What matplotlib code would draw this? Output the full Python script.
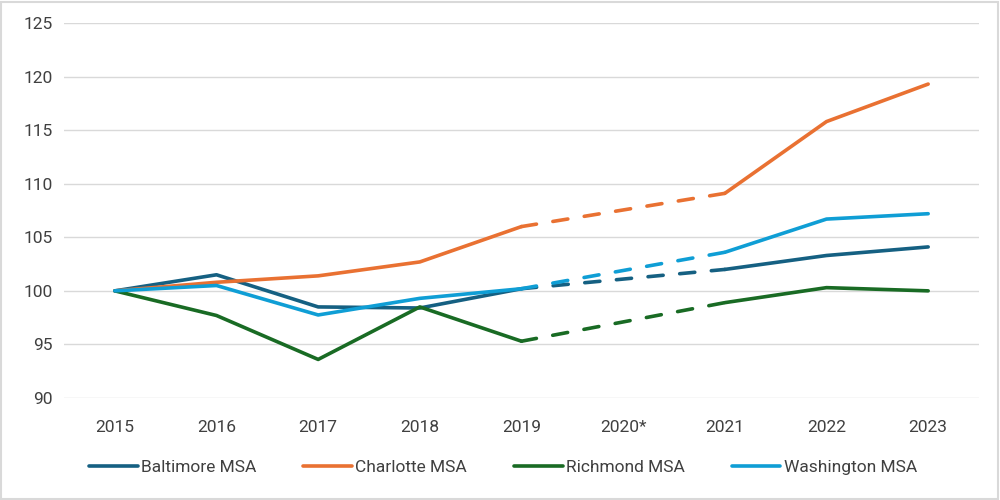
import numpy as np
import matplotlib
matplotlib.use("Agg")
import matplotlib.pyplot as plt
from matplotlib.patches import Rectangle

years = ["2015", "2016", "2017", "2018", "2019", "2020*", "2021", "2022", "2023"]
baltimore = [100.0, 101.5, 98.5, 98.4, 100.2, np.nan, 102.0, 103.3, 104.1]
charlotte = [100.0, 100.8, 101.4, 102.7, 106.0, np.nan, 109.1, 115.8, 119.3]
richmond = [100.0, 97.7, 93.6, 98.5, 95.3, np.nan, 98.9, 100.3, 100.0]
washington = [100.0, 100.5, 97.75, 99.3, 100.2, np.nan, 103.6, 106.7, 107.2]

series = [
    ("Baltimore MSA", baltimore, "#156082"),
    ("Charlotte MSA", charlotte, "#E97132"),
    ("Richmond MSA", richmond, "#196B24"),
    ("Washington MSA", washington, "#0F9ED5"),
]

plt.rcParams['font.family'] = ['Roboto', 'DejaVu Sans']

fig = plt.figure(figsize=(10, 5), dpi=100)
ax = fig.add_axes([0.064, 0.204, 0.915, 0.75])

x = np.arange(len(years))
lw = 2.6
handles = []
for name, vals, col in series:
    v = np.array(vals, dtype=float)
    h, = ax.plot(x[:5], v[:5], color=col, lw=lw, solid_capstyle='round', solid_joinstyle='round', label=name, zorder=3)
    ax.plot(x[6:], v[6:], color=col, lw=lw, solid_capstyle='round', solid_joinstyle='round', zorder=3)
    ax.plot([x[4], x[6]], [v[4], v[6]], color=col, lw=lw, linestyle=(0, (4.2, 4.6)),
            dash_capstyle='round', zorder=3)
    handles.append(h)

ax.set_xlim(-0.5, len(years) - 0.5)
ax.set_ylim(90, 125)
ax.set_yticks(np.arange(90, 126, 5))
ax.set_xticks(x)
ax.set_xticklabels(years)
ax.grid(axis='y', color='#D9D9D9', lw=1.0)
ax.set_axisbelow(True)
for s in ax.spines.values():
    s.set_visible(False)
ax.tick_params(axis='both', length=0, labelsize=12.5, colors='#404040')
ax.tick_params(axis='x', pad=16)
ax.tick_params(axis='y', pad=8)

fig.legend(handles=handles, loc='center', bbox_to_anchor=(0.503, 0.066), ncol=4, frameon=False,
           fontsize=12.5, handlelength=2.8, handletextpad=0.2, columnspacing=2.7, labelcolor='#404040')

fig.patches.append(Rectangle((0.001, 0.002), 0.997, 0.995, transform=fig.transFigure,
                             fill=False, edgecolor='#D9D9D9', lw=1.5))

fig.savefig("out.png", dpi=100)
